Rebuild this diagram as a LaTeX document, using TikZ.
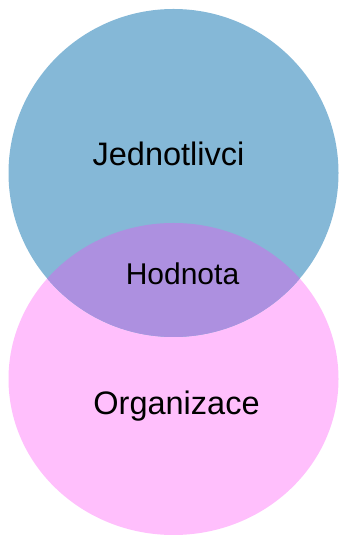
\documentclass[tikz,border=0pt]{standalone}
\usepackage{fontspec}
\setmainfont{Liberation Sans}
\definecolor{vblue}{RGB}{133,184,215}
\definecolor{vpink}{RGB}{255,191,252}
\definecolor{vpurple}{RGB}{173,144,224}
\tikzset{lbl/.style={anchor=base, inner sep=0pt, font=\fontsize{32.5pt}{36pt}\selectfont, text=black}}
\begin{document}
\begin{tikzpicture}[x=1pt,y=1pt]
\useasboundingbox (0,0) rectangle (339,537);
\fill[vpink] (173.5,158) ellipse [x radius=165, y radius=156];
\fill[vblue] (173.5,364) ellipse [x radius=165, y radius=164];
\begin{scope}
  \clip (173.5,158) ellipse [x radius=165, y radius=156];
  \fill[vpurple] (173.5,364) ellipse [x radius=165, y radius=164];
\end{scope}
\node[lbl] (jed) at (168.5,371) {Jednotlivci};
\node[lbl, font=\fontsize{30pt}{34pt}\selectfont] (hod) at (182.5,252) {Hodnota};
\node[lbl] (org) at (176.5,122) {Organizace};
\end{tikzpicture}
\end{document}
